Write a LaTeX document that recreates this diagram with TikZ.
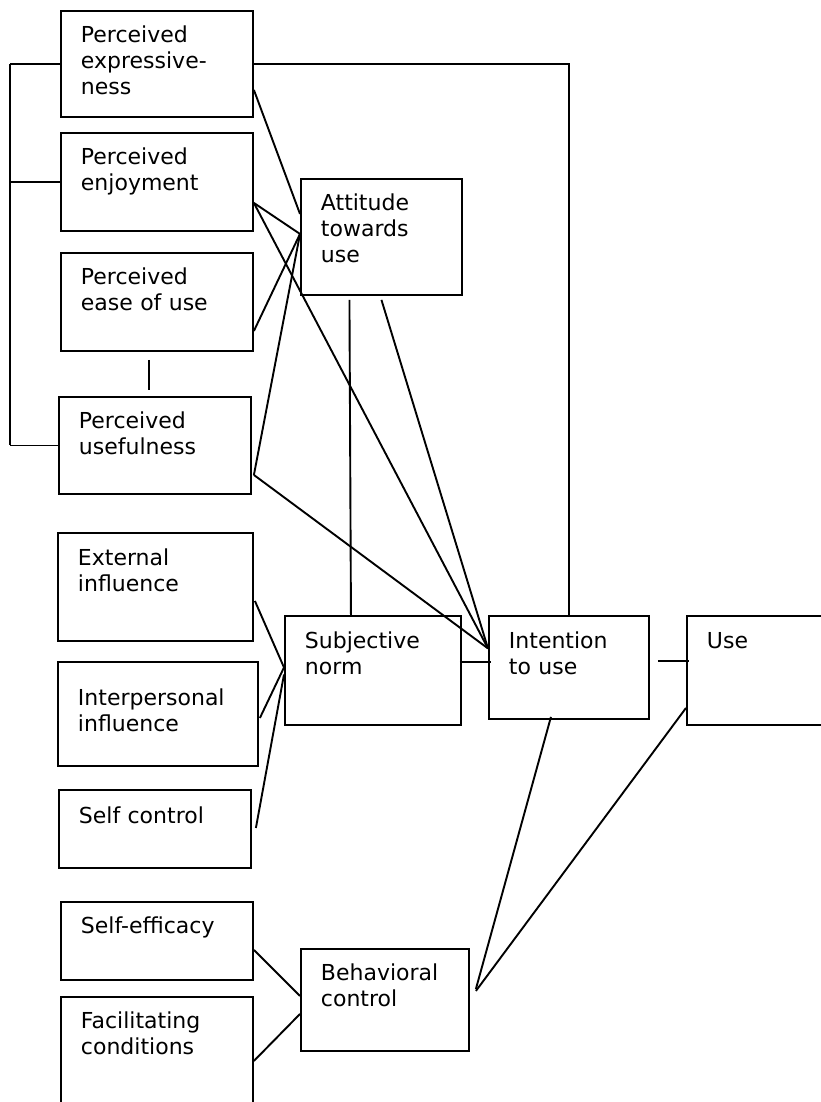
\documentclass[tikz,border=0pt]{standalone}
\usepackage{fontspec}
\setmainfont{DejaVu Sans}
\begin{document}
\begin{tikzpicture}[x=1pt,y=-1pt]
    \useasboundingbox (0,0) rectangle (821,1102);
    \clip (0,0) rectangle (821,1102);
    \begin{scope}[every node/.style={draw,line width=1.9pt,anchor=north west,inner xsep=20pt,inner ysep=0pt,align=left,text height=32pt,font=\fontsize{22}{26}\selectfont}]
      \node[text width=152pt,text depth=74pt] (pe) at (60,10) {Perceived\\expressive-\\ness};
      \node[text width=152pt,text depth=66pt] (penj) at (60,132) {Perceived\\enjoyment};
      \node[text width=152pt,text depth=66pt] (pease) at (60,252) {Perceived\\ease of use};
      \node[text width=152pt,text depth=65pt] (pu) at (58,396) {Perceived\\usefulness};
      \node[text width=121pt,text depth=84pt] (att) at (300,178) {Attitude\\towards\\use};
      \node[text width=155pt,text height=33pt,text depth=75pt] (ext) at (57,532) {External\\influence};
      \node[text width=160pt,text height=44pt,text depth=60pt] (inter) at (57,661) {Interpersonal\\influence};
      \node[text width=152pt,text height=34pt,text depth=44pt] (self) at (58,789) {Self control};
      \node[text width=136pt,text height=33pt,text depth=76pt] (subj) at (284,615) {Subjective\\norm};
      \node[text width=120pt,text height=33pt,text depth=70pt] (intent) at (488,615) {Intention\\to use};
      \node[text width=130pt,text height=33pt,text depth=76pt] (use) at (686,615) {Use};
      \node[text width=152pt,text depth=46pt] (seff) at (60,901) {Self-efficacy};
      \node[text width=152pt,text depth=98pt] (facil) at (60,996) {Facilitating\\conditions};
      \node[text width=128pt,text depth=70pt] (beh) at (300,948) {Behavioral\\control};
    \end{scope}
    \coordinate (brk) at (10,0);
    \coordinate (att in) at ([shift={(0,-3)}]att.west);
    \coordinate (int in) at ([shift={(0,-19)}]intent.west);
    \coordinate (sub in) at ([shift={(0,-3)}]subj.west);
    \begin{scope}[every edge/.style={draw=black,line width=1.9pt}]
      \path (pe.west) edge (brk |- pe.west);
      \path (brk |- pe.west) edge (brk |- pu.west);
      \path (penj.west) edge (brk |- penj.west);
      \path (pu.west) edge (brk |- pu.west);
      \path (pe.east) edge[to path={-| (\tikztotarget)}] (intent.north);
      \path ([shift={(-8,8)}]pease.south) edge ([shift={(-6,-6)}]pu.north);
      \path ([shift={(0,26)}]pe.east) edge ([shift={(0,-23)}]att.west);
      \path ([shift={(0,21)}]penj.east) edge (att in);
      \path ([shift={(0,21)}]penj.east) edge (int in);
      \path ([shift={(0,29)}]pease.east) edge (att in);
      \path ([shift={(2,29.5)}]pu.east) edge (att in);
      \path ([shift={(2,29.5)}]pu.east) edge (int in);
      \path ([shift={(-32,4)}]att.south) edge ([shift={(-22,0)}]subj.north);
      \path ([shift={(0,4)}]att.south) edge (int in);
      \path ([shift={(1,14)}]ext.east) edge (sub in);
      \path ([shift={(1,4)}]inter.east) edge (sub in);
      \path ([shift={(4,-1)}]self.east) edge ([shift={(0,4)}]subj.west);
      \path ([shift={(-2,-8.5)}]subj.east) edge ([shift={(3,-5.5)}]intent.west);
      \path ([shift={(8,-6.5)}]intent.east) edge ([shift={(3,-9.5)}]use.west);
      \path ([shift={(-18,-3)}]intent.south) edge ([shift={(6,-11)}]beh.east);
      \path ([shift={(0,37.5)}]use.west) edge ([shift={(6,-9)}]beh.east);
      \path ([shift={(0,9)}]seff.east) edge ([shift={(0,-4)}]beh.west);
      \path ([shift={(0,-1)}]facil.east) edge ([shift={(0,14)}]beh.west);
    \end{scope}
\end{tikzpicture}
\end{document}
